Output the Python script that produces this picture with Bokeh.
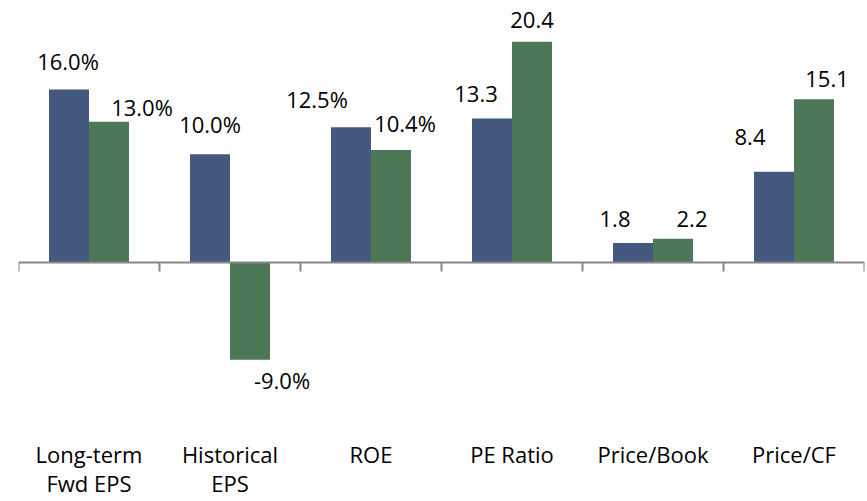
import math
from bokeh.plotting import figure
from bokeh.models import Range1d, FixedTicker, ColumnDataSource, Span
from bokeh.core.properties import value
from bokeh.embed import file_html
from bokeh.resources import INLINE

categories = ["Long-term\nFwd EPS", "Historical\nEPS", "ROE", "PE Ratio", "Price/Book", "Price/CF"]
series_a = [16.0, 10.0, 12.5, 13.3, 1.8, 8.4]
series_b = [13.0, -9.0, 10.4, 20.4, 2.2, 15.1]
is_percent = [True, True, True, False, False, False]

# label placement offsets in screen pixels (styling only)
a_dx = [-1, 0, -34, -16, -18, -24]
a_dy = [-28, -30, -28, -25, -24, -35]
b_dx = [33, 32, 14, 0, 19, 13]
b_dy = [-15, 20, -27, -22, -20, -20]

BLUE = "#45587F"
GREEN = "#4D7858"
AXIS = "#868686"
FONT = "Open Sans"

n = len(categories)
idx = list(range(n))
bar_w = 0.2837
xa = [i + 0.5 - bar_w / 2 for i in idx]
xb = [i + 0.5 + bar_w / 2 for i in idx]


def fmt(v, pct):
    return f"{v:.1f}%" if pct else f"{v:.1f}"


src_a = ColumnDataSource(dict(x=xa, top=series_a, label=[fmt(v, q) for v, q in zip(series_a, is_percent)],
                              dx=a_dx, dy=a_dy))
src_b = ColumnDataSource(dict(x=xb, top=series_b, label=[fmt(v, q) for v, q in zip(series_b, is_percent)],
                              dx=b_dx, dy=b_dy))

p = figure(frame_width=846, frame_height=422,
           x_range=Range1d(0, n), y_range=Range1d(-15.53, 23.48),
           output_backend="svg", toolbar_location=None,
           min_border_left=18, min_border_right=3, min_border_top=8, min_border_bottom=0)
p.outline_line_color = None
p.xgrid.visible = False
p.ygrid.visible = False
p.yaxis.visible = False
p.background_fill_color = "white"
p.border_fill_color = "white"

p.vbar(x="x", top="top", bottom=0, width=bar_w, source=src_a, fill_color=BLUE, line_color=None)
p.vbar(x="x", top="top", bottom=0, width=bar_w, source=src_b, fill_color=GREEN, line_color=None)

p.add_layout(Span(location=0, dimension="width", line_color=AXIS, line_width=2))
p.ray(x=list(range(n + 1)), y=[0] * (n + 1), length=9, length_units="screen",
      angle=-math.pi / 2, line_color=AXIS, line_width=2)

for src in (src_a, src_b):
    p.text(x="x", y="top", text="label", x_offset="dx", y_offset="dy", source=src,
           text_font=value(FONT), text_font_size="22px", text_color="#000000",
           text_align="center", text_baseline="alphabetic")

ax = p.xaxis[0]
ax.ticker = FixedTicker(ticks=[i + 0.5 for i in idx])
ax.major_label_overrides = {i + 0.5: categories[i] for i in idx}
ax.axis_line_color = None
ax.major_tick_line_color = None
ax.minor_tick_line_color = None
ax.major_label_standoff = 2
ax.major_label_text_font = FONT
ax.major_label_text_font_size = "22px"
ax.major_label_text_color = "#000000"
ax.major_label_text_line_height = 0.98

open("out.html", "w").write(file_html(p, INLINE))
